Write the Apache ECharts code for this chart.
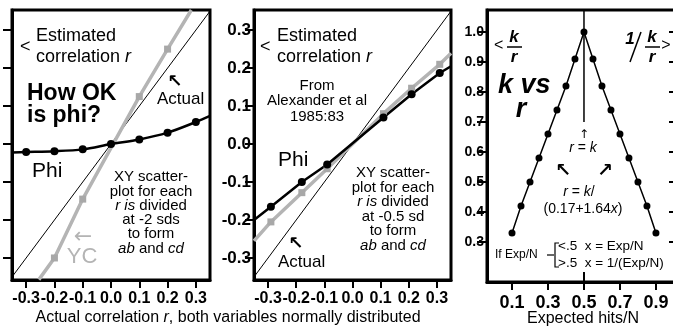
<!DOCTYPE html>
<html>
<head>
<meta charset="utf-8">
<script src="https://cdn.jsdelivr.net/npm/echarts@6/dist/echarts.min.js"></script>
<style>
html, body { margin: 0; padding: 0; background: #fff; }
#main { width: 673px; height: 329px; }
</style>
</head>
<body>
<div id="main"></div>
<script>
// tick values
var corrTicks = [-0.3, -0.2, -0.1, 0, 0.1, 0.2, 0.3];
var hitTicks = [0.1, 0.3, 0.5, 0.7, 0.9];
var ratioTicks = [0.3, 0.4, 0.5, 0.6, 0.7, 0.8, 0.9, 1.0];

// panel 1 : divided at -2 sds (first and last points are where the line meets the frame)
var phiAX = [-0.35, -0.3, -0.2, -0.1, 0, 0.1, 0.2, 0.3, 0.35];
var phiAY = [-0.022, -0.021, -0.019, -0.014, 0.0, 0.012, 0.03, 0.058, 0.074];
var ycAX = [-0.255, -0.2, -0.1, 0.1, 0.2, 0.284];
var ycAY = [-0.357, -0.30, -0.145, 0.125, 0.25, 0.353];
var actualX = [-0.35, 0.35];
var actualY = [-0.35, 0.35];

// panel 2 : Alexander et al 1985:83, divided at -0.5 sd
var phiBX = [-0.35, -0.29, -0.18, -0.09, 0.11, 0.21, 0.31, 0.35];
var phiBY = [-0.2, -0.165, -0.10, -0.054, 0.07, 0.131, 0.187, 0.205];
var estBY = [-0.255, -0.205, -0.128, -0.065, 0.08, 0.147, 0.21, 0.239];

// panel 3 : k vs r
var hitsX = [0.1, 0.15, 0.2, 0.25, 0.3, 0.35, 0.4, 0.45, 0.5, 0.55, 0.6, 0.65, 0.7, 0.75, 0.8, 0.85, 0.9];
var krY = [0.33, 0.42, 0.50, 0.58, 0.66, 0.74, 0.82, 0.91, 1.0, 0.91, 0.82, 0.74, 0.66, 0.58, 0.50, 0.42, 0.33];
var rkLineX = [0.5, 0.5];
var rkLineY = [0.70, 1.073];
var midTickX = [0.5, 0.5];
var midTickY = [0.167, 0.20];

var SANS = '"Liberation Sans", Arial, sans-serif';
var GRAY = '#b4b4b4';

function pairs(xs, ys) {
    var out = [];
    for (var i = 0; i < xs.length; i++) out.push([xs[i], ys[i]]);
    return out;
}
// no dot on the first / last point (those are only where the line hits the frame)
function dotSizes(len, size) {
    return function (val, params) {
        return (params.dataIndex === 0 || params.dataIndex === len - 1) ? 0 : size;
    };
}

function xAxisFor(grid, min, max, ticks, fontSize, margin) {
    return {
        type: 'value', gridIndex: grid, min: min, max: max,
        axisLine: { onZero: false, lineStyle: { color: '#000', width: 3 } },
        axisTick: { customValues: ticks, length: 8, lineStyle: { color: '#000', width: 2 } },
        axisLabel: {
            customValues: ticks, hideOverlap: false, interval: 0, color: '#000', fontWeight: 'bold', fontFamily: SANS,
            fontSize: fontSize, margin: margin,
            formatter: function (v) { return v.toFixed(1); }
        },
        splitLine: { show: false }
    };
}
function yAxisFor(grid, min, max, ticks, opt) {
    opt = opt || {};
    return {
        type: 'value', gridIndex: grid, min: min, max: max, position: opt.position || 'left',
        axisLine: { onZero: false, lineStyle: { color: '#000', width: 3 } },
        axisTick: { customValues: ticks, inside: !!opt.inside, length: opt.tickLen || 9, lineStyle: { color: '#000', width: 2 } },
        axisLabel: {
            show: opt.labels !== false, hideOverlap: false, interval: 0,
            customValues: ticks, color: '#000', fontWeight: 'bold',
            fontFamily: SANS, fontSize: opt.fontSize || 17, margin: 3,
            formatter: function (v) { return v.toFixed(1); }
        },
        splitLine: { show: false }
    };
}

function txt(x, y, text, opt) {
    var style = { text: text, x: 0, y: 0, fill: '#000', fontSize: 16, fontFamily: SANS, align: 'left', verticalAlign: 'middle' };
    for (var k in opt) style[k] = opt[k];
    return { type: 'text', x: x, y: y, z: 100, silent: true, style: style };
}
function ital(size) {
    return { fontStyle: 'italic', fontSize: size, fontFamily: SANS };
}
function seg(points, width, color) {
    return { type: 'polyline', z: 100, silent: true, shape: { points: points },
        style: { stroke: color || '#000', lineWidth: width || 1.5, fill: null } };
}

var myChart = echarts.init(document.getElementById('main'), null, { renderer: 'canvas' });

var gridBase = { show: true, borderColor: '#000', borderWidth: 3, containLabel: false, outerBoundsMode: 'none' };
function gridAt(left, top, width, height) {
    var g = { left: left, top: top, width: width, height: height };
    for (var k in gridBase) g[k] = gridBase[k];
    return g;
}

var option = {
    backgroundColor: '#fff',
    animation: false,
    grid: [
        gridAt(12, 10, 198, 270),
        gridAt(254, 10, 197, 270),
        gridAt(487, 10, 190, 272)
    ],
    xAxis: [
        xAxisFor(0, -0.35, 0.35, corrTicks, 16, 11),
        xAxisFor(1, -0.35, 0.35, corrTicks, 16, 11),
        xAxisFor(2, -0.039, 1.017, hitTicks, 18, 12)
    ],
    yAxis: [
        yAxisFor(0, -0.358, 0.353, corrTicks, { labels: false }),
        yAxisFor(1, -0.358, 0.353, corrTicks),
        yAxisFor(2, 0.1667, 1.0733, ratioTicks, { fontSize: 14, tickLen: 10 }),
        yAxisFor(2, 0.1667, 1.0733, ratioTicks, { position: 'right', inside: true, labels: false, tickLen: 8 })
    ],
    series: [
        // panel 1
        { name: 'Actual', type: 'line', xAxisIndex: 0, yAxisIndex: 0, data: pairs(actualX, actualY),
          showSymbol: false, lineStyle: { color: '#000', width: 1 } },
        { name: 'YC', type: 'line', xAxisIndex: 0, yAxisIndex: 0, data: pairs(ycAX, ycAY),
          symbol: 'rect', symbolSize: dotSizes(ycAX.length, 7), itemStyle: { color: '#a8a8a8' },
          lineStyle: { color: GRAY, width: 3.5 } },
        { name: 'Phi', type: 'line', xAxisIndex: 0, yAxisIndex: 0, data: pairs(phiAX, phiAY), smooth: 0.3,
          symbol: 'circle', symbolSize: dotSizes(phiAX.length, 8), itemStyle: { color: '#000' },
          lineStyle: { color: '#000', width: 2.5 } },
        // panel 2
        { name: 'Actual', type: 'line', xAxisIndex: 1, yAxisIndex: 1, data: pairs(actualX, actualY),
          showSymbol: false, lineStyle: { color: '#000', width: 1 } },
        { name: 'Estimated', type: 'line', xAxisIndex: 1, yAxisIndex: 1, data: pairs(phiBX, estBY),
          symbol: 'rect', symbolSize: dotSizes(phiBX.length, 7), itemStyle: { color: '#a8a8a8' },
          lineStyle: { color: GRAY, width: 3.5 } },
        { name: 'Phi', type: 'line', xAxisIndex: 1, yAxisIndex: 1, data: pairs(phiBX, phiBY),
          symbol: 'circle', symbolSize: dotSizes(phiBX.length, 8), itemStyle: { color: '#000' },
          lineStyle: { color: '#000', width: 2.5 } },
        // panel 3
        { name: 'r = k', type: 'line', xAxisIndex: 2, yAxisIndex: 2, data: pairs(rkLineX, rkLineY),
          showSymbol: false, lineStyle: { color: '#000', width: 1.5 } },
        { name: 'mid', type: 'line', xAxisIndex: 2, yAxisIndex: 2, data: pairs(midTickX, midTickY),
          showSymbol: false, lineStyle: { color: '#000', width: 2 } },
        { name: 'k/r', type: 'line', xAxisIndex: 2, yAxisIndex: 2, data: pairs(hitsX, krY),
          symbol: 'circle', symbolSize: 7, itemStyle: { color: '#000' },
          lineStyle: { color: '#000', width: 1.5 } }
    ],
    graphic: [
        // panel 1
        txt(20, 47, '<', { fontSize: 18 }),
        txt(36, 36, 'Estimated', { fontSize: 18 }),
        txt(36, 57, 'correlation {i|r}', { fontSize: 18, rich: { i: ital(18) } }),
        txt(27, 94, 'How OK', { fontSize: 23, fontWeight: 'bold' }),
        txt(27, 116, 'is phi?', { fontSize: 23, fontWeight: 'bold' }),
        txt(175, 82, '\u2196', { fontSize: 18, fontWeight: 'bold', align: 'center', fontFamily: '"DejaVu Sans"' }),
        txt(157, 99, 'Actual', { fontSize: 17 }),
        txt(32, 171, 'Phi', { fontSize: 21 }),
        txt(151, 170, 'XY scatter-\nplot for each\n{i|r is} divided\nat -2 sds\nto form\n{i|ab} and {i|cd}',
            { fontSize: 15, lineHeight: 14.3, align: 'center', verticalAlign: 'top',
              rich: { i: ital(15) } }),
        txt(83, 237, '\u2190', { fontSize: 22, fill: GRAY, align: 'center', fontFamily: '"DejaVu Sans"' }),
        txt(82, 257, 'YC', { fontSize: 22, fill: GRAY, align: 'center' }),
        // panel 2
        txt(260, 47, '<', { fontSize: 18 }),
        txt(277, 36, 'Estimated', { fontSize: 18 }),
        txt(277, 57, 'correlation {i|r}', { fontSize: 18, rich: { i: ital(18) } }),
        txt(317, 78, 'From\nAlexander et al\n1985:83', { fontSize: 15, lineHeight: 15.5, align: 'center', verticalAlign: 'top' }),
        txt(278, 160, 'Phi', { fontSize: 21 }),
        txt(393, 166, 'XY scatter-\nplot for each\n{i|r is} divided\nat -0.5 sd\nto form\n{i|ab} and {i|cd}',
            { fontSize: 15, lineHeight: 14.5, align: 'center', verticalAlign: 'top',
              rich: { i: ital(15) } }),
        txt(296, 244, '\u2196', { fontSize: 18, fontWeight: 'bold', align: 'center', fontFamily: '"DejaVu Sans"' }),
        txt(278, 262, 'Actual', { fontSize: 17 }),
        // shared x axis title
        txt(228, 318, 'Actual correlation {i|r}, both variables normally distributed',
            { fontSize: 16, align: 'center', rich: { i: ital(16) } }),
        // panel 3
        txt(494, 46, '<', { fontSize: 16 }),
        txt(514, 37, 'k', { fontSize: 17, fontWeight: 'bold', fontStyle: 'italic', align: 'center' }),
        seg([[507, 47], [522, 47]], 1.5),
        txt(514, 57, 'r', { fontSize: 17, fontWeight: 'bold', fontStyle: 'italic', align: 'center' }),
        txt(498, 86, 'k vs', { fontSize: 27, fontWeight: 'bold', fontStyle: 'italic' }),
        txt(521, 110, 'r', { fontSize: 27, fontWeight: 'bold', fontStyle: 'italic', align: 'center' }),
        txt(630, 39, '1', { fontSize: 17, fontWeight: 'bold', fontStyle: 'italic', align: 'center' }),
        seg([[630, 62], [641, 32]], 1.5),
        txt(652, 37, 'k', { fontSize: 17, fontWeight: 'bold', fontStyle: 'italic', align: 'center' }),
        seg([[645, 47], [660, 47]], 1.5),
        txt(652, 57, 'r', { fontSize: 17, fontWeight: 'bold', fontStyle: 'italic', align: 'center' }),
        txt(666, 46, '>', { fontSize: 16, align: 'center' }),
        txt(584, 135, '\u2191', { fontSize: 12, align: 'center', fontFamily: '"DejaVu Sans"' }),
        txt(583, 148, '{i|r} = {i|k}', { fontSize: 14, align: 'center', rich: { i: ital(14) } }),
        txt(563, 171, '\u2196', { fontSize: 19, fontWeight: 'bold', align: 'center', fontFamily: '"DejaVu Sans"' }),
        txt(605, 171, '\u2197', { fontSize: 19, fontWeight: 'bold', align: 'center', fontFamily: '"DejaVu Sans"' }),
        txt(579, 192, '{i|r} = {i|k}/', { fontSize: 14, align: 'center', rich: { i: ital(14) } }),
        txt(583, 209, '(0.17+1.64{i|x})', { fontSize: 14, align: 'center', rich: { i: ital(14) } }),
        txt(495, 255, 'If Exp/N', { fontSize: 12 }),
        seg([[547, 255], [554, 255]], 1.2),
        seg([[559, 243], [555, 243], [555, 267], [559, 267]], 1.2),
        txt(558, 246, '<.5  x = Exp/N', { fontSize: 13.5 }),
        txt(558, 263, '>.5  x = 1/(Exp/N)', { fontSize: 13.5 }),
        txt(583, 319, 'Expected hits/N', { fontSize: 16, align: 'center' })
    ]
};
myChart.setOption(option);
</script>
</body>
</html>
